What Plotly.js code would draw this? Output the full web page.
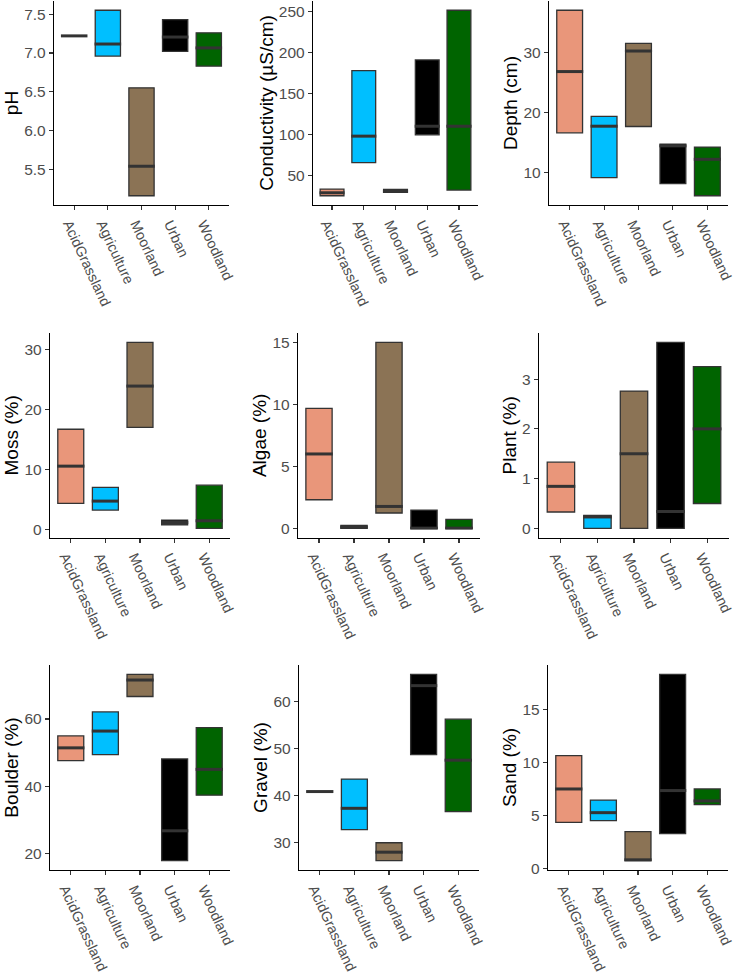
<!DOCTYPE html>
<html><head><meta charset="utf-8">
<script src="https://cdn.plot.ly/plotly-3.0.1.min.js"></script>
<style>html,body{margin:0;padding:0;background:#fff}#chart{width:738px;height:976px}</style>
</head><body><div id="chart"></div>
<script>
var cats = ["AcidGrassland","Agriculture","Moorland","Urban","Woodland"];
var catColors = ["#E9967A","#00BFFF","#8B7355","#000000","#006400"];

var ph_min = [7.22, 6.96, 5.16, 7.02, 6.83];
var ph_med = [7.22, 7.115, 5.54, 7.205, 7.065];
var ph_max = [7.22, 7.55, 6.55, 7.43, 7.26];

var cond_min = [25.4, 65.8, 29.4, 99.8, 32.3];
var cond_med = [29, 98.2, 31, 110.3, 110.3];
var cond_max = [33.5, 178.3, 33, 191.3, 252];

var depth_min = [16.66, 9.22, 17.72, 8.23, 6.2];
var depth_med = [26.86, 17.77, 30.28, 14.5, 12.26];
var depth_max = [37.06, 19.39, 31.54, 14.79, 14.3];

var moss_min = [4.33, 3.22, 17.0, 0.77, 0.17];
var moss_med = [10.55, 4.72, 23.9, 1.15, 1.44];
var moss_max = [16.7, 7.0, 31.2, 1.55, 7.38];

var algae_min = [2.31, 0, 1.24, 0, 0];
var algae_med = [6.0, 0.1, 1.77, 0.02, 0.02];
var algae_max = [9.68, 0.25, 15.0, 1.48, 0.73];

var plant_min = [0.33, 0, 0, 0, 0.5];
var plant_med = [0.845, 0.23, 1.5, 0.34, 2.0];
var plant_max = [1.33, 0.26, 2.76, 3.74, 3.25];

var boulder_min = [47.6, 49.4, 66.7, 17.8, 37.3];
var boulder_med = [51.4, 56.4, 71.6, 26.7, 45.0];
var boulder_max = [54.95, 62.1, 73.3, 48.1, 57.4];

var gravel_min = [40.85, 32.8, 26.2, 48.7, 36.6];
var gravel_med = [40.85, 37.3, 28.0, 63.3, 47.5];
var gravel_max = [40.85, 43.5, 30.0, 65.7, 56.2];

var sand_min = [4.34, 4.5, 0.72, 3.27, 6.02];
var sand_med = [7.5, 5.26, 0.8, 7.35, 6.37];
var sand_max = [10.66, 6.45, 3.46, 18.34, 7.5];

var panels = [
  {title:"pH", mn:ph_min, md:ph_med, mx:ph_max, dtick:0.5, fmt:".1f", px:[54,229], py:[1,205]},
  {title:"Conductivity (µS/cm)", mn:cond_min, md:cond_med, mx:cond_max, dtick:50, fmt:"", px:[313,478], py:[1,205]},
  {title:"Depth (cm)", mn:depth_min, md:depth_med, mx:depth_max, dtick:10, fmt:"", px:[549,728], py:[1,205]},
  {title:"Moss (%)", mn:moss_min, md:moss_med, mx:moss_max, dtick:10, fmt:"", px:[50,230], py:[333,537.7]},
  {title:"Algae (%)", mn:algae_min, md:algae_med, mx:algae_max, dtick:5, fmt:"", px:[298,480], py:[333,537.7]},
  {title:"Plant (%)", mn:plant_min, md:plant_med, mx:plant_max, dtick:1, fmt:"", px:[539,729], py:[333,537.7]},
  {title:"Boulder (%)", mn:boulder_min, md:boulder_med, mx:boulder_max, dtick:20, fmt:"", px:[50,230], py:[665,870]},
  {title:"Gravel (%)", mn:gravel_min, md:gravel_med, mx:gravel_max, dtick:10, fmt:"", px:[299,479], py:[665,870]},
  {title:"Sand (%)", mn:sand_min, md:sand_med, mx:sand_max, dtick:5, fmt:"", px:[548,728], py:[665,870]}
];

var W = 738, H = 976;
var FONT = "Liberation Sans, Arial, Helvetica, sans-serif";
var BOXW = 0.75;
var traces = [];
var layout = {
  width: W, height: H, margin:{l:0,r:0,t:0,b:0},
  paper_bgcolor:"#ffffff", plot_bgcolor:"#ffffff",
  showlegend:false, font:{family:FONT, color:"#4D4D4D", size:15}
};

panels.forEach(function(p, i){
  var n = i + 1;
  var xk = "x" + (n === 1 ? "" : n), yk = "y" + (n === 1 ? "" : n);
  var lo = Math.min.apply(null, p.mn), hi = Math.max.apply(null, p.mx);
  var pad = 0.05 * (hi - lo);
  var heights = p.mx.map(function(v, j){ return v - p.mn[j]; });
  var unitPx = (p.px[1] - p.px[0]) / 5.2;
  traces.push({
    type:"bar", x:cats, y:heights, base:p.mn, width:BOXW,
    xaxis:xk, yaxis:yk,
    marker:{color:catColors, line:{color:"#333333", width:1.3}},
    hoverinfo:"skip"
  });
  traces.push({
    type:"scatter", mode:"markers", x:cats, y:p.md,
    xaxis:xk, yaxis:yk, cliponaxis:false,
    marker:{symbol:"line-ew", size:(BOXW * unitPx + 1.3) / 1.4, line:{color:"#333333", width:3}},
    hoverinfo:"skip"
  });
  var axX = {
    domain:[p.px[0]/W, p.px[1]/W], anchor:yk, type:"category",
    range:[-0.6, 4.6], showline:true, linecolor:"#000000", linewidth:1.2,
    ticks:"outside", ticklen:4, tickwidth:1.1, tickcolor:"#333333",
    showgrid:false, zeroline:false, tickangle:65, ticklabelshift:-5,
    tickfont:{size:14.3, color:"#4D4D4D", family:FONT}
  };
  var axY = {
    domain:[(H - p.py[1])/H, (H - p.py[0])/H], anchor:xk,
    range:[lo - pad, hi + pad], showline:true, linecolor:"#000000", linewidth:1.2,
    ticks:"outside", ticklen:4, tickwidth:1.1, tickcolor:"#333333",
    showgrid:false, zeroline:false, dtick:p.dtick, tick0:0,
    tickformat:p.fmt,
    tickfont:{size:15.5, color:"#4D4D4D", family:FONT},
    title:{text:p.title, font:{size:19, color:"#000000", family:FONT}, standoff:0}
  };
  layout["xaxis" + (n === 1 ? "" : n)] = axX;
  layout["yaxis" + (n === 1 ? "" : n)] = axY;
});

Plotly.newPlot("chart", traces, layout, {displayModeBar:false, staticPlot:true});
</script>
</body></html>
